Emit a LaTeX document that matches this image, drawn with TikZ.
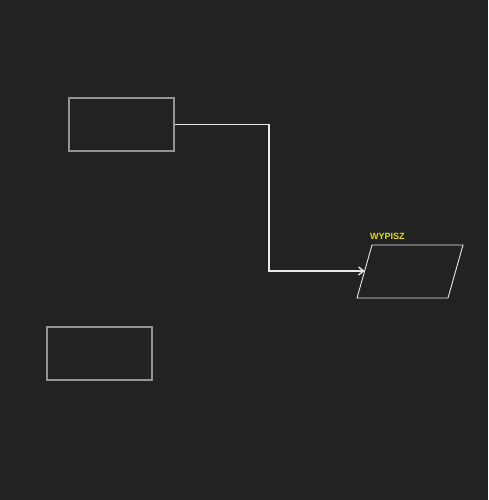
\documentclass[tikz,border=0pt]{standalone}
\usepackage{fontspec}
\setmainfont{Liberation Sans}
\usepackage{xcolor}
\usetikzlibrary{arrows.meta,calc}
\definecolor{bgdark}{HTML}{222222}
\definecolor{boxgray}{HTML}{949494}
\definecolor{linewhite}{HTML}{E8E8E8}
\definecolor{labelyellow}{HTML}{E2E000}
\tikzset{
	blok/.style={draw=boxgray, line width=2pt, minimum width=105pt, minimum height=53pt, inner sep=0pt},
	polaczenie/.style={draw=linewhite, line width=1.3pt},
	etykieta/.style={text=labelyellow, font=\bfseries\fontsize{9}{10}\selectfont, inner sep=0pt}
}

\begin{document}
\begin{tikzpicture}[x=1pt, y=-1pt, >={Straight Barb[length=5pt,width=8pt]}]
			% Background
			\fill[bgdark] (0,0) rectangle (488,500);
			\useasboundingbox (0,0) rectangle (488,500);

			% Blocks
			\node[blok] (blokA) at (121.5,124.5) {};
			\node[blok] (blokB) at (99.5,353.5) {};

			% Output parallelogram
			\coordinate (P1) at (372,245);
			\coordinate (P2) at (463,245);
			\coordinate (P3) at (448,298);
			\coordinate (P4) at (357,298);
			\draw[linewhite, line width=0.9pt] (P1) -- (P2) -- (P3) -- (P4) -- cycle;
			\node[etykieta, anchor=south west] (wypisz) at (370,240) {WYPISZ};

			% Connector
			\coordinate (zagiecie) at (269,124.5);
			\coordinate (wejscie) at ($(P1)!0.49!(P4)$);
			\draw[polaczenie, ->] (blokA.east) -- (zagiecie) |- (wejscie);
		\end{tikzpicture}
\end{document}
